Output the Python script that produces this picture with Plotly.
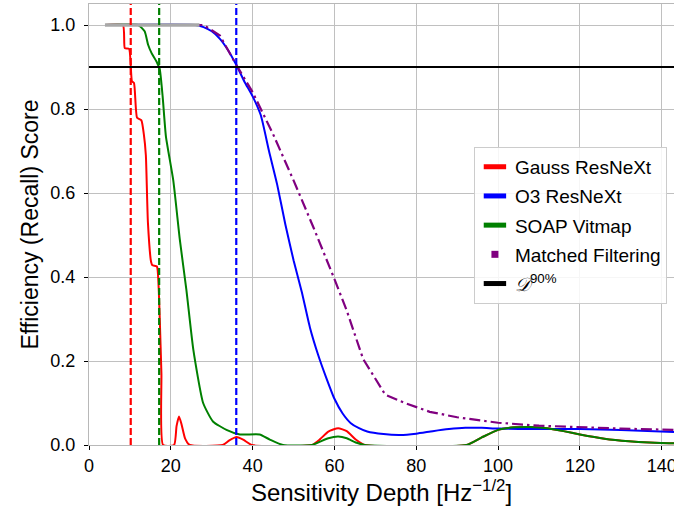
import plotly.graph_objects as go

# ---------------- data ----------------
gauss_x = [4, 8.3, 8.75, 9.8, 10.5, 11.0, 11.75, 12.8, 13.4, 13.9, 14.4, 15.2, 15.5, 16.6, 17.0, 17.3, 17.7, 18.1,
           20.8, 21.4, 22.0, 22.6, 23.5, 24.6, 32.7, 34.3, 36.1, 37.8, 39.8, 54.5, 56.5, 58.5, 60.9, 63.0, 65.2, 67.4,
           92.3, 96, 100, 104, 107.8, 112, 116, 120, 126, 132, 137, 143]
gauss_y = [1.0, 1.0, 0.945, 0.943, 0.866, 0.862, 0.779, 0.773, 0.74, 0.69, 0.53, 0.435, 0.428, 0.425, 0.38, 0.30, 0.17, 0.0,
           0.0, 0.045, 0.068, 0.05, 0.015, 0.0, 0.0, 0.011, 0.019, 0.012, 0.0, 0.0, 0.014, 0.032, 0.040, 0.033, 0.013, 0.0,
           0.0, 0.018, 0.036, 0.042, 0.043, 0.040, 0.033, 0.025, 0.015, 0.009, 0.006, 0.004]

o3_x = [4, 26, 28, 30, 32, 34, 36, 38, 40, 42, 44, 46, 48, 50, 52, 54, 56, 58, 60, 62, 64, 66, 68, 72, 76, 80, 84,
        88, 92, 96, 100, 110, 120, 130, 143]
o3_y = [1.0, 1.0, 0.995, 0.985, 0.967, 0.94, 0.905, 0.865, 0.83, 0.785, 0.70, 0.62, 0.525, 0.44, 0.365, 0.28, 0.215,
        0.16, 0.11, 0.075, 0.052, 0.04, 0.032, 0.026, 0.024, 0.027, 0.033, 0.038, 0.041, 0.041, 0.039, 0.038, 0.038,
        0.036, 0.031]

soap_x = [4, 12.0, 13.6, 14.45, 15.3, 16.5, 17.3, 18.0, 18.8, 20.6, 22.2, 23.8, 25.5, 27.9, 30.3, 33.6, 36.9,
          41.7, 44.2, 47.4, 54.5, 56.5, 58.5, 60.9, 63.0, 65.2, 67.4, 92.3, 96, 100, 104, 107.8, 112, 116, 120, 126,
          132, 137, 143]
soap_y = [1.0, 1.0, 0.985, 0.953, 0.933, 0.913, 0.894, 0.83, 0.735, 0.63, 0.489, 0.37, 0.227, 0.10, 0.056,
          0.036, 0.025, 0.025, 0.013, 0.0, 0.0, 0.008, 0.016, 0.020, 0.016, 0.006, 0.0, 0.0, 0.018, 0.036, 0.042,
          0.043, 0.040, 0.033, 0.025, 0.015, 0.009, 0.006, 0.004]

mf_x = [4, 28, 32, 36, 40, 45, 50, 55, 60, 63, 67, 72.4, 77.2, 83.3, 90, 100, 110, 120, 130, 143]
mf_y = [1.0, 1.0, 0.975, 0.905, 0.84, 0.74, 0.63, 0.515, 0.395, 0.32, 0.205, 0.12, 0.10, 0.079, 0.066, 0.053, 0.046,
        0.042, 0.039, 0.036]

# overlapping plateau of all curves at 1.0 (rendered grey in the reference)
plateau_x = [3.9, 27]
plateau_y = [1.0, 1.0]

threshold_depth = {"Gauss ResNeXt": 10.2, "O3 ResNeXt": 36.0, "SOAP Vitmap": 17.15}
d90_level = 0.9

x_ticks = [0, 20, 40, 60, 80, 100, 120, 140]
y_ticks = [0.0, 0.2, 0.4, 0.6, 0.8, 1.0]

series = [
    ("Gauss ResNeXt", gauss_x, gauss_y, "#ff0000"),
    ("O3 ResNeXt", o3_x, o3_y, "#0000ff"),
    ("SOAP Vitmap", soap_x, soap_y, "#008000"),
]

FONT = "Liberation Sans, Arial, Helvetica, sans-serif"
fig = go.Figure()

for name, xs, ys, col in series:
    fig.add_trace(go.Scatter(x=xs, y=ys, mode="lines", line=dict(color=col, width=2, shape="spline", smoothing=0.5),
                             showlegend=False, hoverinfo="skip"))

fig.add_trace(go.Scatter(x=mf_x, y=mf_y, mode="lines",
                         line=dict(color="#800080", width=2.2, dash="11px,4px,2.5px,4px"),
                         showlegend=False))

fig.add_trace(go.Scatter(x=plateau_x, y=plateau_y, mode="lines", line=dict(color="#a8a8a8", width=3.5),
                         showlegend=False))

# vertical dashed threshold lines
for name, xs, ys, col in series:
    xv = threshold_depth[name]
    fig.add_trace(go.Scatter(x=[xv, xv], y=[0, 1.05], mode="lines",
                             line=dict(color=col, width=2.2, dash="7px,3px"), showlegend=False))

# D90 horizontal line
fig.add_trace(go.Scatter(x=[0, 143], y=[d90_level, d90_level], mode="lines",
                         line=dict(color="black", width=2.2), showlegend=False))

# legend handles (patch-like)
legend_items = [("Gauss ResNeXt", "#ff0000", "line-ew", 18, 10),
                ("O3 ResNeXt", "#0000ff", "line-ew", 18, 10),
                ("SOAP Vitmap", "#008000", "line-ew", 18, 10),
                ("Matched Filtering", "#800080", "square", 7, 0),
                ("<i>𝒟</i><sup>90%</sup>", "#000000", "line-ew", 18, 10)]
for i, (nm, col, sym, sz, lw) in enumerate(legend_items):
    fig.add_trace(go.Scatter(x=[None], y=[None], mode="markers", name=nm, legendgroup=f"g{i}",
                             marker=dict(symbol=sym, size=sz, color=col,
                                         line=dict(color=col, width=lw))))

fig.update_layout(
    width=674, height=516,
    margin=dict(l=89, r=0, t=4, b=71, autoexpand=False),
    plot_bgcolor="white", paper_bgcolor="white",
    font=dict(family=FONT, size=18, color="black"),
    legend=dict(x=0.658, y=0.676, xanchor="left", yanchor="top",
                bordercolor="#cccccc", borderwidth=1, bgcolor="rgba(255,255,255,0.85)",
                font=dict(size=19, family=FONT), tracegroupgap=1.5, itemwidth=30),
    showlegend=True,
)
fig.update_xaxes(range=[0, 143], tickvals=x_ticks, ticktext=[str(v) for v in x_ticks], automargin=False,
                 ticklabeloverflow="allow",
                 showgrid=True, gridcolor="#c0c0c0", gridwidth=1.4,
                 showline=True, linecolor="#b8b8b8", linewidth=1.4, mirror=True,
                 ticks="outside", ticklen=4, tickcolor="black", zeroline=False,
                 tickfont=dict(size=18),
                 title=dict(text="Sensitivity Depth [Hz<sup>−1/2</sup>]", font=dict(size=24), standoff=6))
fig.update_yaxes(range=[0, 1.05], tickvals=y_ticks, ticktext=[f"{v:.1f}" for v in y_ticks], automargin=False,
                 ticklabelstandoff=5,
                 showgrid=True, gridcolor="#c0c0c0", gridwidth=1.4,
                 showline=True, linecolor="#b8b8b8", linewidth=1.4, mirror=True,
                 ticks="outside", ticklen=4, tickcolor="black", zeroline=False,
                 tickfont=dict(size=18),
                 title=dict(text="Efficiency (Recall) Score", font=dict(size=23), standoff=5))

fig.write_html("out.html", config={"displayModeBar": False},
               post_script="document.body.style.margin='0';document.body.style.overflow='hidden';")
